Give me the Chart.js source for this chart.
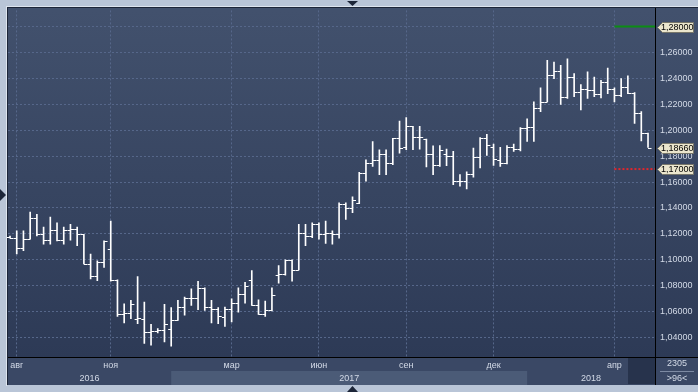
<!DOCTYPE html>
<html>
<head>
<meta charset="utf-8">
<script src="https://cdn.jsdelivr.net/npm/chart.js@4.4.0/dist/chart.umd.min.js"></script>
<style>
  html, body { margin: 0; padding: 0; background: #b9c5d7; overflow: hidden; }
  canvas { display: block; }
</style>
</head>
<body>
<canvas id="chart" width="698" height="392"></canvas>
<script>
// weekly bars, aug 2016 - may 2018
const open = [1.1177,1.1171,1.1090,1.1159,1.1325,1.1197,1.1151,1.1228,1.1151,1.1228,1.1235,1.1197,1.0967,1.0877,1.0985,1.1082,
  1.0844,1.0584,1.0591,1.0545,1.0545,1.0443,1.0451,1.0456,1.0465,1.0532,1.0635,1.0706,1.0706,1.0780,1.0635,1.0617,
  1.0558,1.0617,1.0668,1.0732,1.0847,1.0652,1.0584,1.0609,1.0885,1.0890,1.0998,1.0923,1.1210,1.1184,1.1279,1.1197,
  1.1210,1.1197,1.1432,1.1401,1.1440,1.1670,1.1747,1.1772,1.1816,1.1747,1.1938,1.1874,1.2029,1.1946,1.1931,1.1818,
  1.1734,1.1818,1.1798,1.1606,1.1606,1.1662,1.1790,1.1938,1.1874,1.1772,1.1747,1.1867,1.1856,1.2020,1.2028,1.2173,
  1.2219,1.2429,1.2455,1.2258,1.2411,1.2296,1.2322,1.2309,1.2276,1.2373,1.2322,1.2271,1.2334,1.2291,1.2130,1.1977]
const high = [1.1182,1.1223,1.1223,1.1368,1.1350,1.1253,1.1330,1.1284,1.1253,1.1274,1.1253,1.1197,1.1044,1.0992,1.1146,1.1299,
  1.0844,1.0660,1.0686,1.0870,1.0673,1.0502,1.0468,1.0655,1.0630,1.0686,1.0711,1.0775,1.0834,1.0783,1.0686,1.0630,
  1.0635,1.0699,1.0783,1.0826,1.0916,1.0691,1.0681,1.0783,1.0954,1.1000,1.1000,1.1274,1.1274,1.1284,1.1284,1.1299,
  1.1223,1.1440,1.1440,1.1486,1.1675,1.1772,1.1913,1.1849,1.1849,1.1938,1.2071,1.2097,1.2029,1.2029,1.1931,1.1879,
  1.1882,1.1854,1.1836,1.1657,1.1678,1.1862,1.1943,1.1969,1.1892,1.1867,1.1882,1.1892,1.2020,1.2087,1.2219,1.2327,
  1.2539,1.2526,1.2501,1.2552,1.2437,1.2352,1.2450,1.2411,1.2386,1.2480,1.2327,1.2398,1.2419,1.2291,1.2143,1.1977]
const low = [1.1166,1.1044,1.1069,1.1159,1.1184,1.1120,1.1120,1.1146,1.1120,1.1151,1.1108,1.0967,1.0852,1.0839,1.0941,1.0834,
  1.0563,1.0512,1.0545,1.0507,1.0353,1.0341,1.0435,1.0366,1.0333,1.0532,1.0571,1.0647,1.0614,1.0609,1.0512,1.0507,
  1.0486,1.0520,1.0596,1.0665,1.0647,1.0578,1.0563,1.0604,1.0819,1.0880,1.0834,1.0921,1.1108,1.1171,1.1159,1.1125,
  1.1120,1.1166,1.1312,1.1363,1.1432,1.1606,1.1721,1.1657,1.1657,1.1734,1.1823,1.1849,1.1849,1.1854,1.1716,1.1657,
  1.1721,1.1726,1.1580,1.1568,1.1547,1.1637,1.1708,1.1805,1.1729,1.1721,1.1739,1.1836,1.1841,1.1913,1.1913,1.2143,
  1.2219,1.2398,1.2199,1.2245,1.2258,1.2156,1.2245,1.2258,1.2250,1.2283,1.2219,1.2258,1.2283,1.2053,1.1918,1.1867]
const close = [1.1171,1.1090,1.1159,1.1325,1.1197,1.1151,1.1228,1.1151,1.1228,1.1235,1.1197,1.0967,1.0877,1.0985,1.1141,1.0844,
  1.0584,1.0591,1.0660,1.0550,1.0443,1.0451,1.0456,1.0500,1.0532,1.0635,1.0706,1.0706,1.0780,1.0635,1.0622,1.0563,
  1.0622,1.0668,1.0732,1.0801,1.0652,1.0584,1.0609,1.0724,1.0890,1.0998,1.0923,1.1210,1.1184,1.1279,1.1197,1.1210,
  1.1197,1.1432,1.1401,1.1465,1.1670,1.1747,1.1772,1.1816,1.1747,1.1938,1.1862,1.2035,1.1951,1.1946,1.1818,1.1734,
  1.1849,1.1803,1.1606,1.1606,1.1662,1.1790,1.1938,1.1882,1.1777,1.1747,1.1867,1.1856,1.2020,1.2028,1.2173,1.2219,
  1.2429,1.2455,1.2258,1.2411,1.2296,1.2322,1.2309,1.2276,1.2373,1.2322,1.2271,1.2334,1.2291,1.2130,1.1977,1.1866]

const monthNames = ['авг', 'ноя', 'мар', 'июн', 'сен', 'дек', 'апр']
const monthAt = [1, 15, 33, 46, 59, 72, 90]      // bar index where the month starts
const years = ['2016', '2017', '2018']
const yearAt = [0, 24, 77]
const yTicks = [1.04, 1.06, 1.08, 1.10, 1.12, 1.14, 1.16, 1.18, 1.20, 1.22, 1.24, 1.26, 1.28]
const levelHigh = 1.28
const levelLow = 1.17
const lastPrice = 1.1866
const barCount = 2305

const X_MIN = -0.3, X_MAX = 96.04
const Y_MIN = 1.0249, Y_MAX = 1.2925
const FONT = '"Liberation Sans", Arial, sans-serif'
const fmt = v => v.toFixed(5).replace('.', ',')

const ohlcTicks = {
    id: 'ohlcTicks',
    afterDatasetsDraw(chart) {
        const {ctx, scales: {x, y}} = chart
        ctx.save()
        ctx.strokeStyle = '#fff'
        ctx.lineWidth = 1
        ctx.beginPath()
        open.forEach((o, i) => {
            const px = x.getPixelForValue(i)
            const yo = Math.round(y.getPixelForValue(o)) + 0.5
            const yc = Math.round(y.getPixelForValue(close[i])) + 0.5
            ctx.moveTo(px - 3, yo); ctx.lineTo(px, yo)
            ctx.moveTo(px, yc); ctx.lineTo(px + 3.5, yc)
        })
        ctx.stroke()
        ctx.restore()
    }
}

const frame = {
    id: 'frame',
    beforeDraw(chart) {
        const {ctx, chartArea: a, scales: {x}} = chart
        ctx.save()
        ctx.fillStyle = '#b9c5d7'
        ctx.fillRect(0, 0, 698, 392)
        ctx.fillStyle = '#dde4ee'
        ctx.fillRect(6, 6, 692, 1)
        ctx.fillRect(6, 6, 1, 380)
        ctx.fillStyle = '#1c2538'
        ctx.fillRect(7, 7, 691, 1)
        ctx.fillRect(7, 7, 1, 378)

        const g = ctx.createLinearGradient(0, a.top, 0, a.bottom)
        g.addColorStop(0, '#42516d')
        g.addColorStop(1, '#2d3a56')
        ctx.fillStyle = g
        ctx.fillRect(8, 8, 690, a.bottom - 8)

        // time axis panel
        ctx.fillStyle = '#3a4865'
        ctx.fillRect(8, a.bottom, 690, 385 - a.bottom)
        const x17a = x.getPixelForValue(yearAt[1]), x17b = x.getPixelForValue(yearAt[2])
        ctx.fillStyle = '#4b5b77'
        ctx.fillRect(x17a, 371, x17b - x17a, 14)
        ctx.fillStyle = '#27334c'
        ctx.fillRect(628, a.bottom + 1, a.right - 628, 385 - a.bottom - 2)
        ctx.restore()
    },
    afterDraw(chart) {
        const {ctx, chartArea: a, scales: {x, y}} = chart
        ctx.save()
        ctx.fillStyle = '#000'
        ctx.fillRect(8, a.bottom, 690, 1)
        ctx.fillRect(a.right, 8, 1, 377)

        ctx.font = '9px ' + FONT
        ctx.textBaseline = 'middle'
        ctx.textAlign = 'center'
        ctx.fillStyle = '#d3dae7'
        const edges = [8].concat(yearAt.slice(1).map(v => x.getPixelForValue(v)), [a.right])
        years.forEach((t, i) => ctx.fillText(t, (edges[i] + edges[i + 1]) / 2, 378.5))

        ctx.fillText(String(barCount), 677, 364)
        ctx.fillText('>' + open.length + '<', 677, 379)
        ctx.fillStyle = '#7d8aa3'
        ctx.fillRect(660, 371, 34, 1)

        // price tags
        ctx.textAlign = 'left'
        ;[levelHigh, lastPrice, levelLow].forEach(v => {
            const py = Math.round(y.getPixelForValue(v)) + 0.5
            ctx.beginPath()
            ctx.moveTo(657.5, py)
            ctx.lineTo(662.5, py - 5)
            ctx.lineTo(693.5, py - 5)
            ctx.lineTo(693.5, py + 5)
            ctx.lineTo(662.5, py + 5)
            ctx.closePath()
            ctx.fillStyle = '#ebe6cd'
            ctx.fill()
            ctx.strokeStyle = '#77766a'
            ctx.lineWidth = 1
            ctx.stroke()
            ctx.fillStyle = '#000'
            ctx.fillText(fmt(v), 661, py + 0.5)
        })

        // scroll markers
        ctx.fillStyle = '#1c2538'
        ctx.beginPath(); ctx.moveTo(347, 1); ctx.lineTo(358, 1); ctx.lineTo(352.5, 6); ctx.fill()
        ctx.beginPath(); ctx.moveTo(347, 392); ctx.lineTo(358, 392); ctx.lineTo(352.5, 386); ctx.fill()
        ctx.beginPath(); ctx.moveTo(0, 189); ctx.lineTo(0, 201); ctx.lineTo(6, 195); ctx.fill()
        ctx.restore()
    }
}

new Chart('chart', {
    data: {
        datasets: [
            {
                type: 'bar',
                data: low.map((l, i) => ({x: i, y: [l, high[i]]})),
                backgroundColor: '#fff',
                barThickness: 1,
                borderWidth: 0,
                grouped: false
            },
            {
                type: 'line',
                data: [{x: monthAt[6], y: levelHigh}, {x: X_MAX, y: levelHigh}],
                borderColor: '#0c8c14',
                borderWidth: 2,
                pointRadius: 0
            },
            {
                type: 'line',
                data: [{x: monthAt[6], y: levelLow}, {x: X_MAX, y: levelLow}],
                borderColor: '#e0262c',
                borderWidth: 2,
                borderDash: [2, 2],
                pointRadius: 0
            }
        ]
    },
    options: {
        responsive: false,
        animation: false,
        devicePixelRatio: 1,
        layout: {padding: {left: 8, top: 8, right: 0, bottom: 7}},
        plugins: {legend: {display: false}, tooltip: {enabled: false}},
        scales: {
            x: {
                type: 'linear', min: X_MIN, max: X_MAX, offset: false,
                afterBuildTicks: s => { s.ticks = monthAt.map(v => ({value: v})) },
                afterFit: s => { s.height = 28 },
                ticks: {
                    callback: (v, i) => monthNames[i],
                    color: '#d3dae7', font: {family: FONT, size: 9},
                    padding: 3, maxRotation: 0, autoSkip: false
                },
                grid: {color: '#56678a', drawTicks: false, offset: false},
                border: {color: '#000', dash: [2, 2]}
            },
            y: {
                position: 'right', min: Y_MIN, max: Y_MAX,
                afterBuildTicks: s => { s.ticks = yTicks.map(v => ({value: v})) },
                afterFit: s => { s.width = 43 },
                ticks: {
                    callback: v => v === levelHigh ? '' : fmt(v),
                    color: '#d3dae7', font: {family: FONT, size: 9},
                    padding: 5
                },
                grid: {color: '#56678a', drawTicks: false},
                border: {color: '#000', dash: [2, 2]}
            }
        }
    },
    plugins: [frame, ohlcTicks]
})
</script>
</body>
</html>
